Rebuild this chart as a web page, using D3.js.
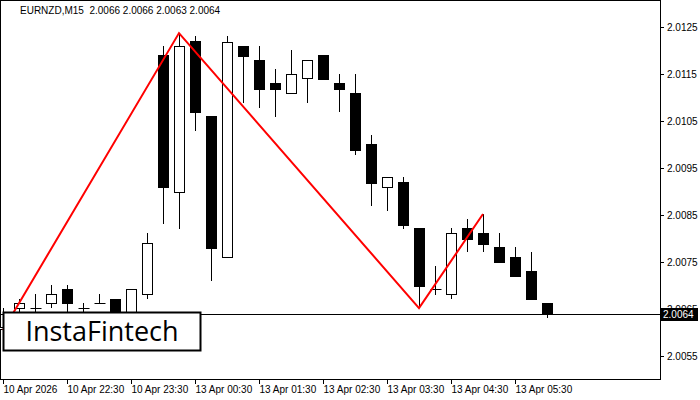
<!DOCTYPE html><html><head><meta charset="utf-8">
<script src="https://cdn.jsdelivr.net/npm/d3@7"></script>
<style>body{margin:0;background:#fff}svg{display:block}</style></head><body>
<svg id="c" width="700" height="400"></svg>
<script>
const opens  =[2.00607,2.00652,2.00652,2.00663,2.00693,2.00652,2.00663,2.00671,2.00631,2.00682,2.01190,2.00899,2.01220,2.01061,2.00761,2.01210,2.01180,2.01131,2.01110,2.01141,2.01190,2.01131,2.01110,2.01001,2.00910,2.00920,2.00822,2.00693,2.00682,2.00822,2.00812,2.00782,2.00761,2.00731,2.00663];
const closes =[2.00612,2.00663,2.00652,2.00682,2.00663,2.00652,2.00663,2.00641,2.00693,2.00790,2.00910,2.01210,2.01069,2.00780,2.01218,2.01188,2.01118,2.01118,2.01150,2.01180,2.01139,2.01118,2.00988,2.00918,2.00931,2.00829,2.00699,2.00693,2.00812,2.00799,2.00788,2.00750,2.00720,2.00671,2.00641];
const highs  =[2.00652,2.00671,2.00682,2.00701,2.00701,2.00663,2.00682,2.00671,2.00693,2.00812,2.01210,2.01237,2.01231,2.01061,2.01231,2.01210,2.01210,2.01161,2.01201,2.01180,2.01190,2.01150,2.01150,2.01020,2.00931,2.00931,2.00822,2.00741,2.00822,2.00841,2.00852,2.00812,2.00782,2.00771,2.00663];
const lows   =[2.00605,2.00607,2.00631,2.00652,2.00641,2.00612,2.00663,2.00620,2.00631,2.00671,2.00831,2.00820,2.01029,2.00710,2.00761,2.01088,2.01078,2.01059,2.01110,2.01088,2.01139,2.01069,2.00978,2.00869,2.00859,2.00820,2.00654,2.00680,2.00671,2.00771,2.00771,2.00750,2.00720,2.00671,2.00631];
const patternIdx=[0,11,26,30];
const patternPx=[2.00605,2.01237,2.00652,2.00852];
const priceTicks=[2.0125,2.0115,2.0105,2.0095,2.0085,2.0075,2.0065,2.0055];
const timeLabels=["10 Apr 2026","10 Apr 22:30","10 Apr 23:30","13 Apr 00:30","13 Apr 01:30","13 Apr 02:30","13 Apr 03:30","13 Apr 04:30","13 Apr 05:30"];
const lastPrice=2.0064;

const svg=d3.select("#c");
const x=d3.scaleLinear().domain([0,41]).range([3,659]);
const y=d3.scaleLinear().domain([2.0125,2.0055]).range([27,356]);
const F="'Liberation Sans',Arial,sans-serif";
svg.append("rect").attr("x",0.5).attr("y",0.5).attr("width",660).attr("height",379).attr("fill","none").attr("stroke","#000");
const ax=svg.append("g").attr("transform","translate(660,0)");
ax.selectAll("line").data(priceTicks).join("line").attr("x1",0).attr("x2",4).attr("y1",d=>Math.round(y(d))+.5).attr("y2",d=>Math.round(y(d))+.5).attr("stroke","#000");
ax.selectAll("text").data(priceTicks).join("text").attr("x",7).attr("y",d=>y(d)+4).text(d=>d.toFixed(4)).attr("font-family",F).attr("font-size",10);
const bx=svg.append("g");
timeLabels.forEach((t,k)=>{const xi=Math.round(x(k*4))+.5;
 bx.append("line").attr("x1",xi).attr("x2",xi).attr("y1",379).attr("y2",384).attr("stroke","#000");
 bx.append("text").attr("x",xi).attr("y",393).text(t).attr("font-family",F).attr("font-size",10);});
svg.append("line").attr("x1",0).attr("x2",660).attr("y1",Math.round(y(lastPrice))+.5).attr("y2",Math.round(y(lastPrice))+.5).attr("stroke","#000");
const g=svg.append("g");
opens.forEach((o,i)=>{const c=closes[i],cx=Math.round(x(i))+.5;
 g.append("line").attr("x1",cx).attr("x2",cx).attr("y1",Math.round(y(highs[i]))).attr("y2",Math.round(y(lows[i]))).attr("stroke","#000");
 const t=Math.round(y(Math.max(o,c))),b=Math.round(y(Math.min(o,c)));
 if(b-t<1){g.append("line").attr("x1",cx-5).attr("x2",cx+6).attr("y1",t+.5).attr("y2",t+.5).attr("stroke","#000");}
 else g.append("rect").attr("x",cx-5).attr("y",t+.5).attr("width",10).attr("height",b-t).attr("fill",c>=o?"#fff":"#000").attr("stroke","#000");
});
svg.append("path").attr("d",d3.line().x((d,k)=>x(patternIdx[k])).y(d=>y(d))(patternPx)).attr("fill","none").attr("stroke","#f00").attr("stroke-width",2);
svg.append("rect").attr("x",660).attr("y",Math.round(y(lastPrice))-6).attr("width",38).attr("height",13).attr("fill","#000");
svg.append("text").attr("x",663).attr("y",y(lastPrice)+4).text(lastPrice.toFixed(4)).attr("fill","#fff").attr("font-family",F).attr("font-size",10);
svg.append("text").attr("x",20).attr("y",14).text("EURNZD,M15  2.0066 2.0066 2.0063 2.0064").attr("font-family",F).attr("font-size",10).attr("xml:space","preserve");
svg.append("rect").attr("x",3.5).attr("y",312.5).attr("width",197).attr("height",38).attr("fill","#fff").attr("stroke","#000").attr("stroke-width",2);
svg.append("text").attr("x",102).attr("y",341).attr("text-anchor","middle").text("InstaFintech").attr("font-family","'Open Sans',sans-serif").attr("font-weight",500).attr("font-size",27).attr("fill","#000");
</script></body></html>
